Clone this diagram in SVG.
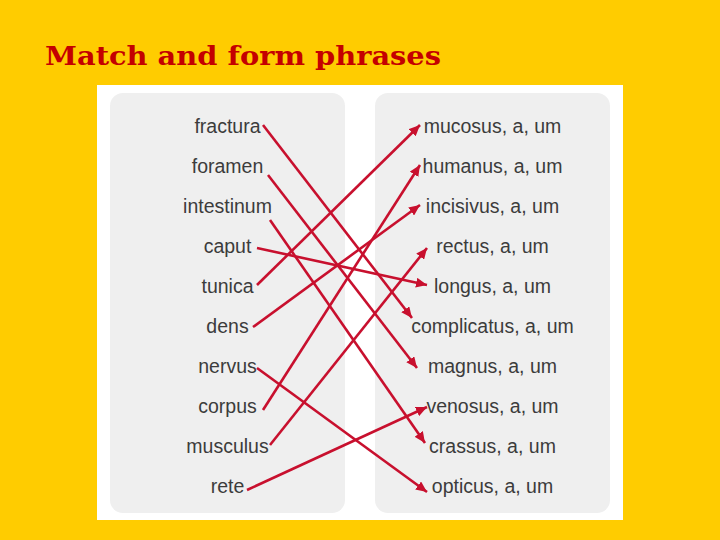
<svg xmlns="http://www.w3.org/2000/svg" width="720" height="540" viewBox="0 0 720 540">
<style>
.lbl{font-family:"Liberation Sans",Arial,sans-serif;font-size:19.5px;fill:#3c3c3c;text-anchor:middle}
.arr{stroke:#c8102e;stroke-width:2.6;fill:none;marker-end:url(#ah)}
.panel{fill:#efefef}
</style>
<defs>
<marker id="ah" markerUnits="userSpaceOnUse" markerWidth="12" markerHeight="10" refX="11" refY="5" orient="auto">
<path d="M0,0 L11,5 L0,10 Z" fill="#c8102e"/>
</marker>
</defs>
<rect x="0" y="0" width="720" height="540" fill="#ffcc00"/>
<text x="45" y="65" font-family="'DejaVu Serif','Liberation Serif',serif" font-weight="bold" font-size="26" fill="#c40000" textLength="396" lengthAdjust="spacingAndGlyphs">Match and form phrases</text>
<rect x="97" y="85" width="526" height="435" fill="#ffffff"/>
<rect class="panel" x="110" y="93" width="235" height="420" rx="13"/>
<rect class="panel" x="375" y="93" width="235" height="420" rx="13"/>
<g id="left">
<g id="n-fractura"><text class="lbl" x="227.5" y="133">fractura</text></g>
<g id="n-foramen"><text class="lbl" x="227.5" y="173">foramen</text></g>
<g id="n-intestinum"><text class="lbl" x="227.5" y="213">intestinum</text></g>
<g id="n-caput"><text class="lbl" x="227.5" y="253">caput</text></g>
<g id="n-tunica"><text class="lbl" x="227.5" y="293">tunica</text></g>
<g id="n-dens"><text class="lbl" x="227.5" y="333">dens</text></g>
<g id="n-nervus"><text class="lbl" x="227.5" y="373">nervus</text></g>
<g id="n-corpus"><text class="lbl" x="227.5" y="413">corpus</text></g>
<g id="n-musculus"><text class="lbl" x="227.5" y="453">musculus</text></g>
<g id="n-rete"><text class="lbl" x="227.5" y="493">rete</text></g>
</g>
<g id="right">
<g id="n-mucosus"><text class="lbl" x="492.5" y="133">mucosus, a, um</text></g>
<g id="n-humanus"><text class="lbl" x="492.5" y="173">humanus, a, um</text></g>
<g id="n-incisivus"><text class="lbl" x="492.5" y="213">incisivus, a, um</text></g>
<g id="n-rectus"><text class="lbl" x="492.5" y="253">rectus, a, um</text></g>
<g id="n-longus"><text class="lbl" x="492.5" y="293">longus, a, um</text></g>
<g id="n-complicatus"><text class="lbl" x="492.5" y="333">complicatus, a, um</text></g>
<g id="n-magnus"><text class="lbl" x="492.5" y="373">magnus, a, um</text></g>
<g id="n-venosus"><text class="lbl" x="492.5" y="413">venosus, a, um</text></g>
<g id="n-crassus"><text class="lbl" x="492.5" y="453">crassus, a, um</text></g>
<g id="n-opticus"><text class="lbl" x="492.5" y="493">opticus, a, um</text></g>
</g>
<g id="connectors">
<line class="arr" x1="263" y1="125" x2="412" y2="318"/>
<line class="arr" x1="268" y1="175" x2="417" y2="368"/>
<line class="arr" x1="270" y1="220" x2="425" y2="443"/>
<line class="arr" x1="257" y1="248" x2="427" y2="285"/>
<line class="arr" x1="257" y1="285" x2="420" y2="125"/>
<line class="arr" x1="253" y1="327" x2="420" y2="205"/>
<line class="arr" x1="257" y1="368" x2="427" y2="492"/>
<line class="arr" x1="263" y1="410" x2="420" y2="165"/>
<line class="arr" x1="270" y1="445" x2="427" y2="248"/>
<line class="arr" x1="247" y1="490" x2="427" y2="407"/>
</g>
</svg>
